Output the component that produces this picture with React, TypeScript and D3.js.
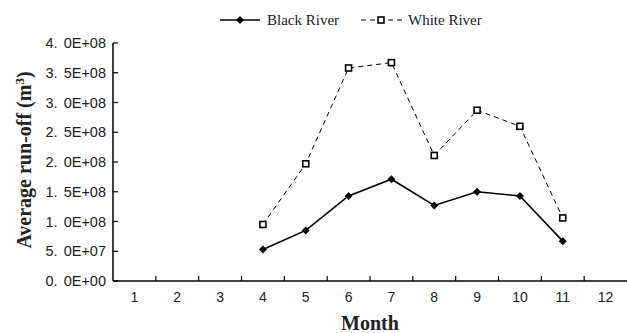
import React from "react";
import * as d3 from "d3";

const months = ["1", "2", "3", "4", "5", "6", "7", "8", "9", "10", "11", "12"];
const dataMonths = ["4", "5", "6", "7", "8", "9", "10", "11"];
const blackRiver = [5.3e7, 8.5e7, 1.43e8, 1.71e8, 1.27e8, 1.5e8, 1.43e8, 6.7e7];
const whiteRiver = [9.5e7, 1.97e8, 3.58e8, 3.67e8, 2.11e8, 2.87e8, 2.6e8, 1.06e8];
const yTicks = [0, 5e7, 1e8, 1.5e8, 2e8, 2.5e8, 3e8, 3.5e8, 4e8];
const yTickLabels = ["0. 0E+00", "5. 0E+07", "1. 0E+08", "1. 5E+08", "2. 0E+08", "2. 5E+08", "3. 0E+08", "3. 5E+08", "4. 0E+08"];

export default function App() {
  const W = 627, H = 333;
  const left = 113, right = 627, top = 43, bottom = 281;
  const x = d3.scaleBand<string>().domain(months).range([left, right]).padding(0);
  const y = d3.scaleLinear().domain([0, 4e8]).range([bottom, top]);
  const cx = (m: string) => (x(m) as number) + x.bandwidth() / 2;
  const line = d3.line<number>().x((_, i) => cx(dataMonths[i])).y((d) => y(d));
  const sans = "'Liberation Sans', Arial, sans-serif";
  const serif = "'Liberation Serif', 'Times New Roman', serif";
  const diamond = (px: number, py: number, s = 4) =>
    `M${px},${py - s}L${px + s},${py}L${px},${py + s}L${px - s},${py}Z`;

  return (
    <svg width={W} height={H} style={{ position: "absolute", left: 0, top: 0, background: "#fff" }}>
      {/* axes */}
      <line x1={left} x2={left} y1={top} y2={bottom} stroke="#000" strokeWidth={1.5} />
      <line x1={left} x2={right} y1={bottom} y2={bottom} stroke="#000" strokeWidth={1.5} />
      {yTicks.map((t, i) => (
        <g key={i}>
          <line x1={left} x2={left + 5} y1={y(t)} y2={y(t)} stroke="#000" strokeWidth={1.2} />
          <text x={106} y={y(t)} dy="0.35em" textAnchor="end" fontFamily={sans} fontSize={14.5} wordSpacing={2} fill="#222">
            {yTickLabels[i]}
          </text>
        </g>
      ))}
      {months.map((m, i) => (
        <g key={m}>
          {i > 0 && (
            <line x1={x(m) as number} x2={x(m) as number} y1={bottom} y2={bottom - 5} stroke="#000" strokeWidth={1.2} />
          )}
          <text x={cx(m)} y={bottom + 21} textAnchor="middle" fontFamily={sans} fontSize={14} fill="#222">
            {m}
          </text>
        </g>
      ))}
      {/* series */}
      <path d={line(whiteRiver) || ""} fill="none" stroke="#000" strokeWidth={1} strokeDasharray="5,4" />
      <path d={line(blackRiver) || ""} fill="none" stroke="#000" strokeWidth={1.6} />
      {whiteRiver.map((v, i) => (
        <rect key={i} x={cx(dataMonths[i]) - 3} y={y(v) - 3} width={6} height={6} fill="#fff" stroke="#000" strokeWidth={1.6} />
      ))}
      {blackRiver.map((v, i) => (
        <path key={i} d={diamond(cx(dataMonths[i]), y(v))} fill="#000" />
      ))}
      {/* legend */}
      <line x1={220} x2={260} y1={20} y2={20} stroke="#000" strokeWidth={1.6} />
      <path d={diamond(240, 20)} fill="#000" />
      <text x={267} y={20} dy="0.35em" fontFamily={serif} fontSize={15} fill="#222">Black River</text>
      <line x1={361} x2={402} y1={20} y2={20} stroke="#000" strokeWidth={1} strokeDasharray="5,4" />
      <rect x={378} y={17} width={6} height={6} fill="#fff" stroke="#000" strokeWidth={1.6} />
      <text x={408} y={20} dy="0.35em" fontFamily={serif} fontSize={15} fill="#222">White River</text>
      {/* titles */}
      <text x={370} y={330} textAnchor="middle" fontFamily={serif} fontSize={20} fontWeight="bold" fill="#222">Month</text>
      <text transform="translate(31,160) rotate(-90)" textAnchor="middle" fontFamily={serif} fontSize={20} fontWeight="bold" fill="#222">
        Average run-off (m<tspan dy="-7" fontSize={13}>3</tspan><tspan dy="7">)</tspan>
      </text>
    </svg>
  );
}
